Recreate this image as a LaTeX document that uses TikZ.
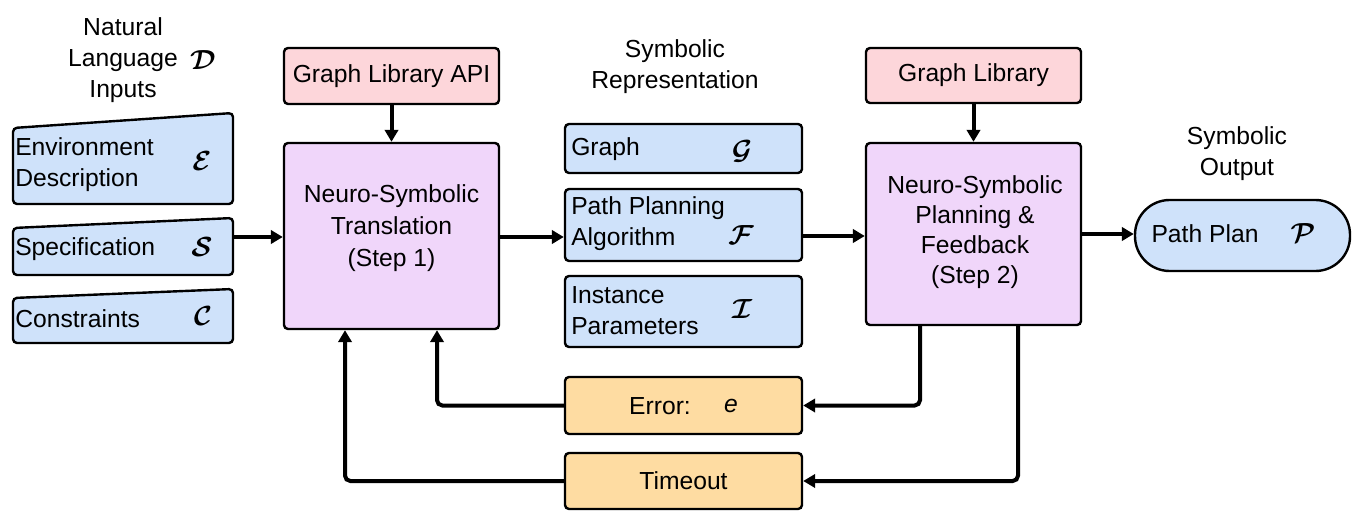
\documentclass[tikz,border=0pt]{standalone}
\usepackage{amsmath}
\usepackage{fontspec}
\setmainfont{Liberation Sans}
\usetikzlibrary{arrows.meta}
\definecolor{boxblue}{RGB}{207,226,250}
\definecolor{boxpink}{RGB}{253,214,218}
\definecolor{boxpurple}{RGB}{240,214,250}
\definecolor{boxorange}{RGB}{254,220,162}
\newcommand{\myCal}[1]{{\fontsize{21}{24}\selectfont$\boldsymbol{\mathcal{#1}}$}}
\begin{document}
\begin{tikzpicture}[x=0.75pt,y=-0.75pt,
  every node/.style={font=\fontsize{18.5}{23.25}\selectfont, inner sep=0pt},
  box/.style={draw, line width=1.8pt, rounded corners=3pt},
  bluebox/.style={box, fill=boxblue},
  pinkbox/.style={box, fill=boxpink},
  purplebox/.style={box, fill=boxpurple},
  orangebox/.style={box, fill=boxorange},
  txt/.style={align=center},
  ltxt/.style={align=left, anchor=west},
  arr/.style={line width=3pt, -{Triangle[length=9pt,width=10pt]}},
  loop/.style={arr, rounded corners=4pt}
]
\useasboundingbox (0,0) rectangle (1355,531);

% titles
\node[txt] (nlt) at (123,60) {Natural\\Language\\Inputs};
\node (nlD) at (203,60) {\myCal{D}};
\node[txt] (srt) at (675,67) {Symbolic\\Representation};
\node[txt] (sot) at (1237,154) {Symbolic\\Output};

% input shapes
\draw[bluebox] (13,128) -- (233,113) -- (233,204) -- (13,204) -- cycle;
\draw[bluebox] (13,228) -- (233,218) -- (233,275) -- (13,275) -- cycle;
\draw[bluebox] (13,298) -- (233,289) -- (233,343) -- (13,343) -- cycle;
\node[ltxt] (envt) at (15,165) {Environment\\Description};
\node (envm) at (202,161) {\myCal{E}};
\node[ltxt] (spect) at (15,249) {Specification};
\node (specm) at (202,247) {\myCal{S}};
\node[ltxt] (cont) at (15,319) {Constraints};
\node (conm) at (203,316) {\myCal{C}};
\coordinate (specE) at (233,237);

% step 1
\node[pinkbox, minimum width=161.25pt, minimum height=42pt] (api) at (391.5,76) {Graph Library API};
\node[purplebox, minimum width=161.25pt, minimum height=139.5pt] (trans) at (391.5,236) {};
\node[txt, font=\fontsize{18.5}{24}\selectfont] (transt) at (391.5,228) {Neuro-Symbolic\\Translation\\(Step 1)};

% symbolic representation
\node[bluebox, minimum width=177.75pt, minimum height=36.75pt] (g) at (683.5,148.5) {};
\node[ltxt] (gt) at (571,149) {Graph};
\node (gm) at (742,151) {\myCal{G}};
\node[bluebox, minimum width=177.75pt, minimum height=54pt] (pp) at (683.5,225) {};
\node[ltxt] (ppt) at (571,224) {Path Planning\\Algorithm};
\node (ppm) at (741,235) {\myCal{F}};
\node[bluebox, minimum width=177.75pt, minimum height=53.25pt] (inst) at (683.5,311.5) {};
\node[ltxt] (instt) at (571,311) {Instance\\Parameters};
\node (instm) at (742,309) {\myCal{I}};

% feedback boxes
\node[orangebox, minimum width=177.75pt, minimum height=42.75pt] (err) at (683.5,405.5) {};
\node (errt) at (660,406) {Error:};
\node (erre) at (731,406) {\itshape e};
\node[orangebox, minimum width=177.75pt, minimum height=42pt] (tim) at (683.5,481) {Timeout};

% step 2
\node[pinkbox, minimum width=161.25pt, minimum height=41.25pt] (glib) at (973.5,75.5) {Graph Library};
\node[purplebox, minimum width=161.25pt, minimum height=136.5pt] (plan) at (973.5,234) {};
\node[txt, font=\fontsize{18.5}{22.5}\selectfont] (plant) at (975,232) {Neuro-Symbolic\\Planning \&\\Feedback\\(Step 2)};

% output
\node[bluebox, rounded corners=26pt, minimum width=161.25pt, minimum height=53.25pt] (out) at (1242.5,235.5) {};
\node (outt) at (1205,234) {Path Plan};
\node (outm) at (1303,233) {\myCal{P}};

% connectors
\draw[arr] (specE) -- (specE -| trans.west);
\draw[arr] (api) -- (trans);
\draw[arr] (glib) -- (plan);
\coordinate (c1) at (499,237);
\draw[arr] (c1) -- (c1 -| pp.west);
\coordinate (c2) at (802,236);
\draw[arr] (c2) -- (c2 -| plan.west);
\draw[arr] (plan.east) -- (plan.east -| out.west);

\coordinate (ex) at (920,0);
\coordinate (tx) at (1018,0);
\coordinate (fx1) at (437,0);
\coordinate (fx2) at (345,0);
\draw[loop] (plan.south -| ex) |- (err.east);
\draw[loop] (plan.south -| tx) |- (tim.east);
\draw[loop] (err.west) -| (trans.south -| fx1);
\draw[loop] (tim.west) -| (trans.south -| fx2);
\end{tikzpicture}
\end{document}
